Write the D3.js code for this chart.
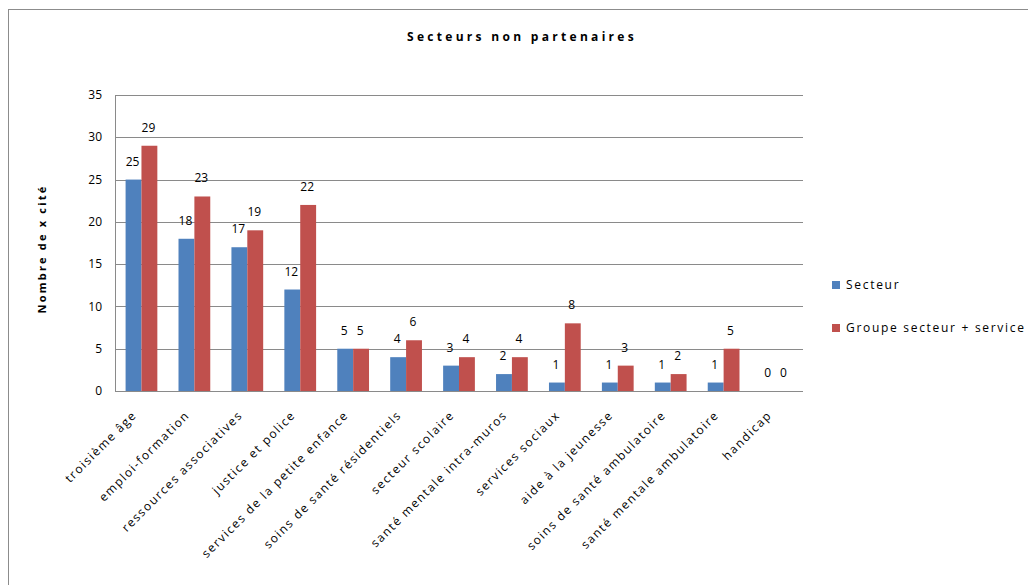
<!DOCTYPE html>
<html>
<head>
<meta charset="utf-8">
<script src="https://cdn.jsdelivr.net/npm/d3@7"></script>
<style>
  body { margin: 0; background: #fff; }
  text { font-family: "Open Sans", "Liberation Sans", sans-serif; fill: #000; }
</style>
</head>
<body>
<svg width="1028" height="585"></svg>
<script>
const categories = [
  "troisième âge", "emploi-formation", "ressources associatives", "justice et police",
  "services de la petite enfance", "soins de santé résidentiels", "secteur scolaire",
  "santé mentale intra-muros", "services sociaux", "aide à la jeunesse",
  "soins de santé ambulatoire", "santé mentale ambulatoire", "handicap"
];
const secteur = [25, 18, 17, 12, 5, 4, 3, 2, 1, 1, 1, 1, 0];
const groupe = [29, 23, 19, 22, 5, 6, 4, 4, 8, 3, 2, 5, 0];
const seriesNames = ["Secteur", "Groupe secteur + service"];
const colors = ["#4F81BD", "#C0504D"];
const yTicks = [0, 5, 10, 15, 20, 25, 30, 35];

const svg = d3.select("svg");

// chart frame
svg.append("rect")
  .attr("x", 8.5).attr("y", 9.5)
  .attr("width", 1040).attr("height", 600)
  .attr("fill", "none").attr("stroke", "#8c8c8c");

const plotLeft = 115, plotRight = 803, plotTop = 95, plotBottom = 391;

const x = d3.scaleBand().domain(categories).range([plotLeft, plotRight]);
const y = d3.scaleLinear().domain([0, 35]).range([plotBottom, plotTop]);

// gridlines
svg.append("g")
  .selectAll("line")
  .data(yTicks)
  .join("line")
  .attr("x1", plotLeft).attr("x2", plotRight)
  .attr("y1", d => Math.round(y(d)) + 0.5).attr("y2", d => Math.round(y(d)) + 0.5)
  .attr("stroke", "#8a8a8a");

svg.append("line")
  .attr("x1", plotLeft + 0.5).attr("x2", plotLeft + 0.5)
  .attr("y1", plotTop).attr("y2", plotBottom)
  .attr("stroke", "#8a8a8a");

// y tick labels
svg.append("g")
  .selectAll("text")
  .data(yTicks)
  .join("text")
  .attr("x", 102).attr("y", d => y(d))
  .attr("dy", "0.35em")
  .attr("text-anchor", "end")
  .style("font-size", "12px")
  .text(d => d);

// bars
const barW = x.bandwidth() * 0.3;
const series = [secteur, groupe];
series.forEach((vals, s) => {
  const g = svg.append("g");
  g.selectAll("rect")
    .data(categories)
    .join("rect")
    .attr("x", c => x(c) + x.bandwidth() / 2 - barW + s * barW)
    .attr("y", (c, i) => y(vals[i]))
    .attr("width", barW)
    .attr("height", (c, i) => plotBottom - y(vals[i]))
    .attr("fill", colors[s]);
  g.selectAll("text")
    .data(categories)
    .join("text")
    .attr("x", c => x(c) + x.bandwidth() / 2 - barW / 2 + s * barW - 1)
    .attr("y", (c, i) => y(vals[i]) - 14)
    .attr("text-anchor", "middle")
    .style("font-size", "12px")
    .text((c, i) => vals[i]);
});

// x labels
svg.append("g")
  .selectAll("text")
  .data(categories)
  .join("text")
  .attr("transform", c => `translate(${x(c) + x.bandwidth() / 2 - 7},${plotBottom + 22}) rotate(-45)`)
  .attr("text-anchor", "end")
  .attr("dy", "0.35em")
  .style("font-size", "12px")
  .style("letter-spacing", "1.5px")
  .text(c => c);

// title
svg.append("text")
  .attr("x", 522).attr("y", 41)
  .attr("text-anchor", "middle")
  .style("font-size", "12px")
  .style("font-weight", "bold")
  .style("letter-spacing", "3.3px")
  .text("Secteurs non partenaires");

// y axis title
svg.append("text")
  .attr("transform", `translate(46,249) rotate(-90)`)
  .attr("text-anchor", "middle")
  .style("font-size", "11px")
  .style("font-weight", "bold")
  .style("letter-spacing", "2.2px")
  .text("Nombre de x cité");

// legend
const legend = svg.append("g");
seriesNames.forEach((name, i) => {
  const ly = 285 + i * 43;
  legend.append("rect")
    .attr("x", 832).attr("y", ly - 4)
    .attr("width", 8).attr("height", 8)
    .attr("fill", colors[i]);
  legend.append("text")
    .attr("x", 846).attr("y", ly)
    .attr("dy", "0.35em")
    .style("font-size", "12px")
    .style("letter-spacing", "1.7px")
    .text(name);
});
</script>
</body>
</html>
